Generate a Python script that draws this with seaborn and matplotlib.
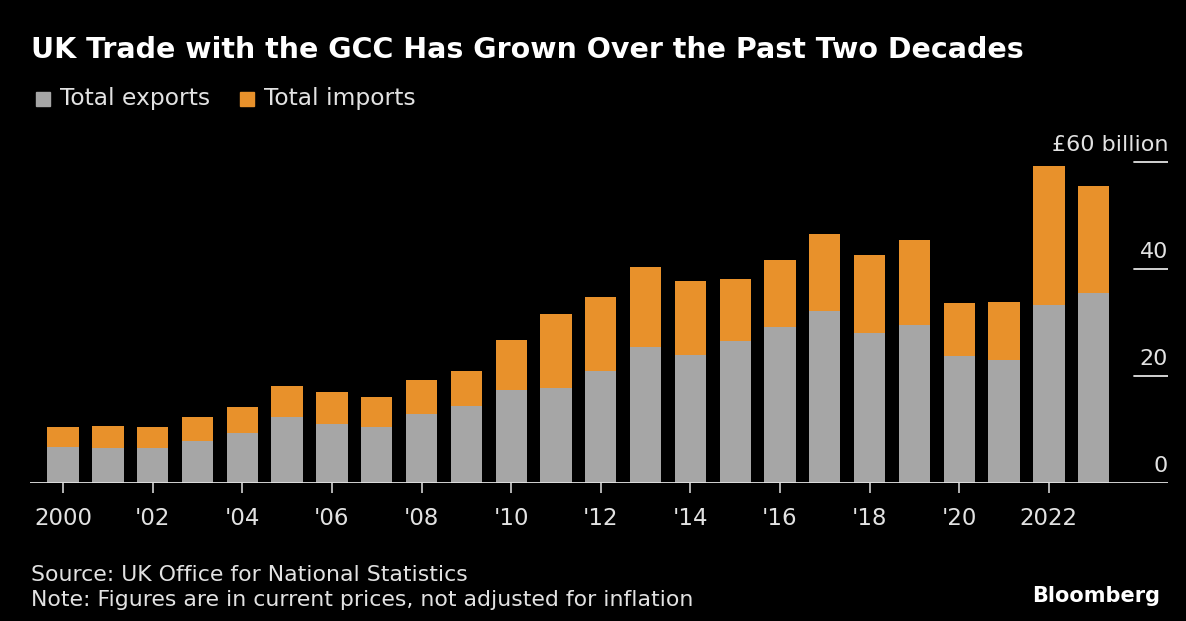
import matplotlib
matplotlib.use("Agg")
import matplotlib.pyplot as plt
import seaborn as sns
import pandas as pd

# UK trade with the GCC, £ billion
years = list(range(2000, 2024))
exports = [6.8, 6.6, 6.5, 7.9, 9.3, 12.4, 11.1, 10.4, 12.9, 14.3, 17.3, 17.7,
           21.0, 25.4, 24.0, 26.5, 29.1, 32.2, 28.0, 29.5, 23.8, 23.0, 33.3, 35.5]
totals = [10.4, 10.6, 10.5, 12.4, 14.2, 18.2, 17.1, 16.0, 19.3, 21.0, 26.7, 31.5,
          34.8, 40.4, 37.7, 38.1, 41.7, 46.6, 42.7, 45.4, 33.6, 33.8, 59.2, 55.6]
imports = [t - e for t, e in zip(totals, exports)]
tick_labels = ["2000", "'02", "'04", "'06", "'08", "'10", "'12", "'14", "'16", "'18", "'20", "2022"]
y_ticks = [0, 20, 40, 60]
y_labels = ["0", "20", "40", "£60 billion"]

GREY = "#a6a6a6"
ORANGE = "#e8912b"
BG = "#000000"
FG = "#e2e2e2"

df = pd.DataFrame({"year": [str(y) for y in years], "exports": exports,
                   "imports": imports, "total": totals})

sns.set_theme(style="dark")
plt.rcParams["font.family"] = ["DejaVu Sans"]

W, H = 1186, 621
fig = plt.figure(figsize=(W / 100, H / 100), dpi=100, facecolor=BG)

# axes placed in pixel terms
left_px, right_px, base_px = 30, 1168, 483
ymax = 62
top_px = base_px - ymax * 5.35
ax = fig.add_axes([left_px / W, 1 - base_px / H, (right_px - left_px) / W, (base_px - top_px) / H])
ax.set_facecolor(BG)

# stacked bars: total (orange) behind, exports (grey) in front
sns.barplot(data=df, x="year", y="total", color=ORANGE, width=0.7, saturation=1,
            linewidth=0, ax=ax)
sns.barplot(data=df, x="year", y="exports", color=GREY, width=0.7, saturation=1,
            linewidth=0, ax=ax)

ax.set_xlim(-0.74, 24.66)
ax.set_ylim(0, ymax)
for s in ax.spines.values():
    s.set_visible(False)
ax.axhline(0, color=FG, lw=1.3, zorder=5)
ax.grid(False)

# x ticks on even years
ax.set_xticks(range(0, 24, 2))
ax.set_xticklabels(tick_labels, color=FG, fontsize=16.5)
ax.tick_params(axis="x", length=7, width=1.1, color=FG, pad=10, direction="out", bottom=True)
ax.set_xlabel("")
ax.set_ylabel("")
ax.set_yticks([])

# right-hand value labels above short lines
for v, lab in zip(y_ticks, y_labels):
    if v > 0:
        ax.axhline(v, xmin=0.97, xmax=1.0, color=FG, lw=1.3)
    ax.text(1.0, v + 1.3, lab, transform=ax.get_yaxis_transform(), ha="right", va="bottom",
            color=FG, fontsize=16)

# title, legend, footer
fig.text(31 / W, 1 - 50 / H, "UK Trade with the GCC Has Grown Over the Past Two Decades",
         color="white", fontsize=20.5, fontweight="bold", ha="left", va="center")
for x0, col, lab in [(36, GREY, "Total exports"), (240, ORANGE, "Total imports")]:
    fig.patches.append(plt.Rectangle((x0 / W, 1 - 106 / H), 14 / W, 14 / H,
                                     transform=fig.transFigure, color=col, figure=fig))
    fig.text((x0 + 24) / W, 1 - 99 / H, lab, color=FG, fontsize=16.8, ha="left", va="center")

fig.text(31 / W, 1 - 575 / H, "Source: UK Office for National Statistics",
         color=FG, fontsize=15.8, ha="left", va="center")
fig.text(31 / W, 1 - 600 / H, "Note: Figures are in current prices, not adjusted for inflation",
         color=FG, fontsize=15.8, ha="left", va="center")
fig.text(1160 / W, 1 - 596 / H, "Bloomberg", color="white", fontsize=15, fontweight="bold",
         ha="right", va="center")

fig.savefig("out.png", dpi=100, facecolor=BG)
